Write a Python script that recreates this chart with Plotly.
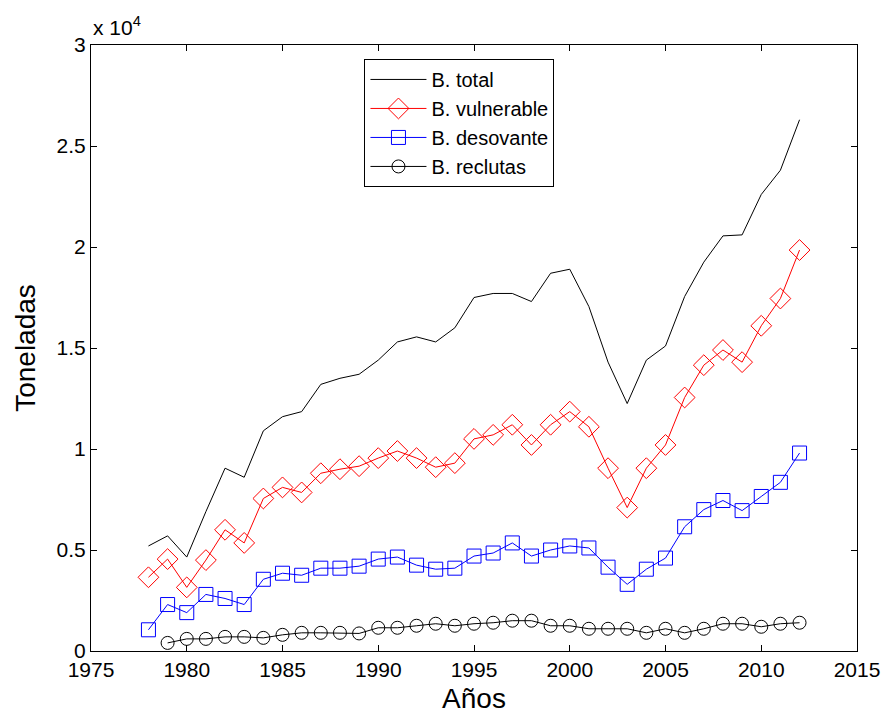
import plotly.graph_objects as go

years_total = list(range(1978, 2013))
b_total = [5200, 5700, 4650, 6900, 9050, 8600, 10900, 11600, 11850, 13200,
           13500, 13700, 14400, 15300, 15550, 15300, 16000, 17500, 17700, 17700,
           17300, 18700, 18900, 17050, 14300, 12250, 14400, 15100, 17550, 19250,
           20550, 20600, 22600, 23800, 26300]
b_vulnerable = [3650, 4550, 3150, 4500, 6000, 5350, 7550, 8100, 7850, 8800,
                9000, 9150, 9550, 9900, 9550, 9100, 9300, 10500, 10700, 11200,
                10200, 11200, 11850, 11100, 9050, 7100, 9050, 10200, 12550, 14150,
                14900, 14300, 16100, 17450, 19850]
b_desovante = [1050, 2300, 1900, 2800, 2600, 2300, 3550, 3850, 3750, 4100,
               4100, 4200, 4550, 4650, 4250, 4050, 4100, 4700, 4850, 5350,
               4700, 5000, 5200, 5100, 4150, 3300, 4050, 4600, 6150, 7000,
               7450, 6950, 7650, 8350, 9800]
years_rec = list(range(1979, 2013))
b_reclutas = [400, 600, 600, 700, 700, 650, 800, 900, 900, 900,
              870, 1150, 1150, 1250, 1350, 1250, 1350, 1400, 1500, 1500,
              1250, 1250, 1100, 1100, 1100, 900, 1100, 900, 1100, 1350,
              1350, 1200, 1350, 1400]

y_tickvals = [0, 5000, 10000, 15000, 20000, 25000, 30000]
y_ticktext = ["0", "0.5", "1", "1.5", "2", "2.5", "3"]
x_tickvals = [1975, 1980, 1985, 1990, 1995, 2000, 2005, 2010, 2015]

FONT = "Liberation Sans, Arial, sans-serif"

fig = go.Figure()
fig.add_trace(go.Scatter(x=years_total, y=b_total, mode="lines", name="B. total",
                         line=dict(color="black", width=1)))
fig.add_trace(go.Scatter(x=years_total, y=b_vulnerable, mode="lines+markers",
                         name="B. vulnerable",
                         line=dict(color="#ff0000", width=1),
                         marker=dict(symbol="diamond-open", size=16,
                                     color="#ff0000", line=dict(width=1))))
fig.add_trace(go.Scatter(x=years_total, y=b_desovante, mode="lines+markers",
                         name="B. desovante",
                         line=dict(color="#0000ff", width=1),
                         marker=dict(symbol="square-open", size=14,
                                     color="#0000ff", line=dict(width=1))))
fig.add_trace(go.Scatter(x=years_rec, y=b_reclutas, mode="lines+markers",
                         name="B. reclutas",
                         line=dict(color="black", width=1),
                         marker=dict(symbol="circle-open", size=13,
                                     color="black", line=dict(width=1))))

axis_common = dict(showgrid=False, zeroline=False, showline=True,
                   linecolor="black", linewidth=1, mirror="allticks",
                   ticks="inside", ticklen=6, tickcolor="black",
                   automargin=False,
                   tickfont=dict(family=FONT, size=21, color="black"))

fig.update_layout(
    width=885, height=717,
    margin=dict(l=91, r=28, t=45, b=66),
    paper_bgcolor="white", plot_bgcolor="white",
    font=dict(family=FONT, color="black"),
    showlegend=True,
    legend=dict(x=0.357, y=0.977, xanchor="left", yanchor="top",
                bordercolor="black", borderwidth=1, bgcolor="white",
                font=dict(family=FONT, size=20, color="black"),
                itemwidth=56),
    xaxis=dict(range=[1975, 2015], tickvals=x_tickvals,
               title=dict(text="Años", font=dict(family=FONT, size=28), standoff=8),
               **axis_common),
    yaxis=dict(range=[0, 30000], tickvals=y_tickvals, ticktext=y_ticktext,
               title=dict(text="Toneladas", font=dict(family=FONT, size=28), standoff=12),
               **axis_common),
    annotations=[dict(text="x 10<sup>4</sup>", xref="paper", yref="paper",
                      x=0.0, y=1.0, xanchor="left", yanchor="bottom",
                      showarrow=False, yshift=4,
                      font=dict(family=FONT, size=21, color="black"))],
)

fig.write_html("out.html")
